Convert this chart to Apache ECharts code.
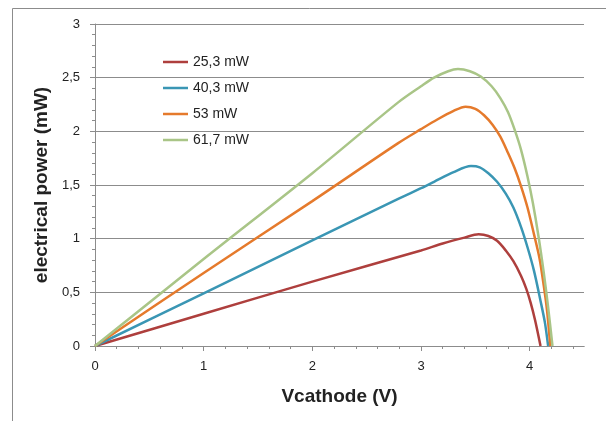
<!DOCTYPE html>
<html>
<head>
<meta charset="utf-8">
<script src="https://cdn.jsdelivr.net/npm/echarts@6/dist/echarts.min.js"></script>
<style>html,body{margin:0;padding:0;background:#fff;}#c{width:606px;height:421px;}</style>
</head>
<body>
<div id="c"></div>
<script>
var seriesNames = ['25,3 mW', '40,3 mW', '53 mW', '61,7 mW'];
var seriesColors = ['#AE3F3D', '#3A96B4', '#E57A2C', '#A9C587'];

var vRed = [0, 1, 2, 3, 3.2, 3.4, 3.53, 3.62, 3.7, 3.78, 3.85, 3.92, 3.97, 4.01, 4.05, 4.10];
var pRed = [0, 0.30, 0.60, 0.89, 0.955, 1.01, 1.04, 1.025, 0.98, 0.89, 0.79, 0.655, 0.53, 0.40, 0.24, 0];

var vBlue = [0, 1, 2, 2.79, 3, 3.12, 3.3, 3.46, 3.54, 3.62, 3.7, 3.78, 3.85, 3.92, 3.98, 4.04, 4.1, 4.14, 4.17];
var pBlue = [0, 0.49, 0.985, 1.37, 1.47, 1.53, 1.62, 1.676, 1.665, 1.61, 1.53, 1.42, 1.29, 1.11, 0.92, 0.70, 0.42, 0.22, 0];

var vOrange = [0, 1, 2, 2.79, 3, 3.15, 3.3, 3.41, 3.5, 3.58, 3.66, 3.73, 3.8, 3.86, 3.92, 3.98, 4.04, 4.09, 4.13, 4.16, 4.19];
var pOrange = [0, 0.68, 1.35, 1.89, 2.02, 2.11, 2.19, 2.23, 2.21, 2.15, 2.06, 1.95, 1.80, 1.66, 1.49, 1.29, 1.04, 0.82, 0.56, 0.33, 0];

var vGreen = [0, 1, 2, 2.79, 3, 3.12, 3.25, 3.34, 3.45, 3.55, 3.65, 3.73, 3.8, 3.86, 3.92, 3.98, 4.03, 4.08, 4.13, 4.17, 4.21];
var pGreen = [0, 0.81, 1.61, 2.27, 2.42, 2.5, 2.56, 2.58, 2.56, 2.51, 2.42, 2.31, 2.18, 2.02, 1.83, 1.58, 1.33, 1.03, 0.68, 0.36, 0];

var xTickLabels = [0, 1, 2, 3, 4];
var yTickLabels = ['0', '0,5', '1', '1,5', '2', '2,5', '3'];

var allV = [vRed, vBlue, vOrange, vGreen];
var allP = [pRed, pBlue, pOrange, pGreen];

var minorX = [];
for (var i = 0; i <= 22; i++) minorX.push(Math.round(i * 2) / 10);

function pairs(v, p) { return v.map(function (x, i) { return [x, p[i]]; }); }

var FONT = '"Liberation Sans", Arial, sans-serif';

var series = seriesNames.map(function (n, k) {
  return {
    name: n, type: 'line', xAxisIndex: 0, yAxisIndex: 0,
    data: pairs(allV[k], allP[k]),
    showSymbol: false, symbol: 'none',
    smooth: 0.3,
    lineStyle: { width: 2.5, color: seriesColors[k] },
    itemStyle: { color: seriesColors[k] },
    z: 3 + k
  };
});

var chart = echarts.init(document.getElementById('c'), null, { renderer: 'canvas' });
chart.setOption({
  animation: false,
  backgroundColor: '#fff',
  graphic: [{
    type: 'rect', shape: { x: 12.5, y: 8.5, width: 700, height: 600 },
    style: { fill: 'none', stroke: '#8c8c8c', lineWidth: 1 }, silent: true, z: -10
  }],
  grid: { left: 95, right: 22, top: 24, bottom: 75 },
  legend: {
    orient: 'vertical', left: 158, top: 50,
    itemWidth: 25, itemHeight: 2.5, itemGap: 12, icon: 'rect',
    textStyle: { fontFamily: FONT, fontSize: 14, color: '#222' },
    data: seriesNames
  },
  xAxis: [{
    type: 'value', min: 0, max: 4.5,
    axisLine: { show: true, lineStyle: { color: '#8c8c8c', width: 1 } },
    axisTick: { show: true, length: 5, customValues: xTickLabels, lineStyle: { color: '#8c8c8c' } },
    axisLabel: { customValues: xTickLabels, fontFamily: FONT, fontSize: 13, color: '#222', margin: 14 },
    splitLine: { show: false },
    name: 'Vcathode (V)', nameLocation: 'middle', nameGap: 41,
    nameTextStyle: { fontFamily: FONT, fontSize: 19, fontWeight: 'bold', color: '#222' }
  }, {
    type: 'value', min: 0, max: 4.5, position: 'bottom',
    axisLine: { show: true, lineStyle: { color: '#8c8c8c', width: 1 } },
    axisTick: { show: true, length: 3, customValues: minorX, lineStyle: { color: '#8c8c8c' } },
    axisLabel: { show: false },
    splitLine: { show: false }
  }],
  yAxis: {
    type: 'value', min: 0, max: 3, interval: 0.5,
    axisLine: { show: true, lineStyle: { color: '#8c8c8c', width: 1 } },
    axisTick: { show: true, length: 5, lineStyle: { color: '#8c8c8c' } },
    minorTick: { show: true, splitNumber: 5, length: 3, lineStyle: { color: '#8c8c8c' } },
    axisLabel: {
      fontFamily: FONT, fontSize: 13, color: '#222', margin: 15,
      formatter: function (v) { return yTickLabels[Math.round(v * 2)]; }
    },
    splitLine: { show: true, lineStyle: { color: '#8c8c8c', width: 1 } },
    name: 'electrical power (mW)', nameLocation: 'middle', nameGap: 44,
    nameTextStyle: { fontFamily: FONT, fontSize: 19, fontWeight: 'bold', color: '#222' }
  },
  series: series
});
</script>
</body>
</html>
